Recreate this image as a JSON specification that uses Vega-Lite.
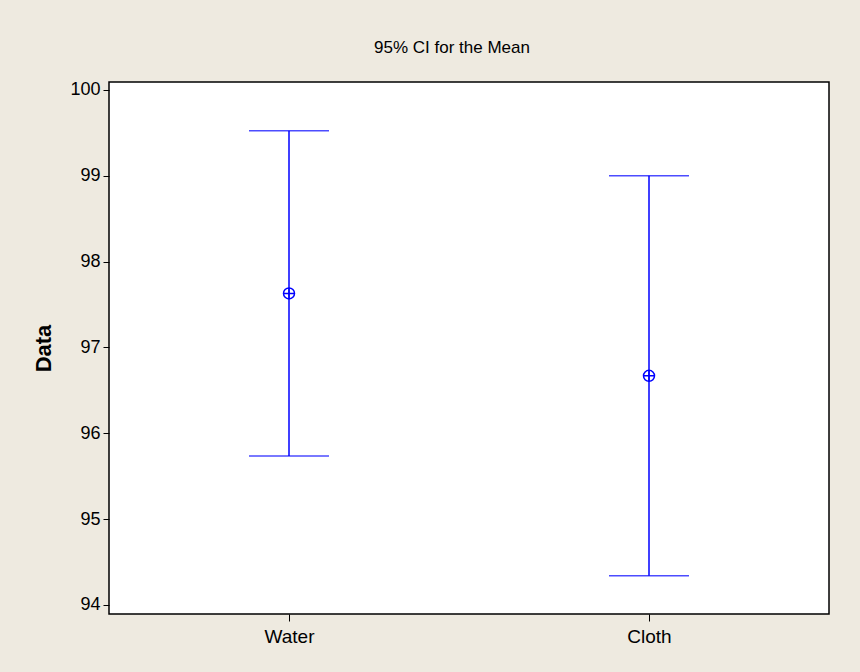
{
  "$schema": "https://vega.github.io/schema/vega-lite/v6.json",
  "autosize": {"type": "none"},
  "width": 720,
  "height": 532,
  "padding": {"left": 109, "top": 82, "right": 31, "bottom": 58},
  "background": "#EEEAE0",
  "title": {
    "text": "95% CI for the Mean",
    "font": "Liberation Sans",
    "fontSize": 17,
    "fontWeight": "normal",
    "color": "#000000",
    "anchor": "middle",
    "offset": 24,
    "dx": -17
  },
  "config": {
    "view": {"stroke": "#000000", "strokeWidth": 1.5, "fill": "#FFFFFF"},
    "axis": {
      "domain": false,
      "grid": false,
      "tickColor": "#000000",
      "labelColor": "#000000",
      "labelFont": "Liberation Sans",
      "labelFontSize": 18,
      "titleColor": "#000000"
    }
  },
  "data": {
    "values": [
      {"group": "Water", "lower": 95.736, "mean": 97.63, "upper": 99.526},
      {"group": "Cloth", "lower": 94.34, "mean": 96.67, "upper": 99.0}
    ]
  },
  "encoding": {
    "x": {
      "field": "group",
      "type": "nominal",
      "sort": ["Water", "Cloth"],
      "scale": {"type": "point", "padding": 0.5},
      "axis": {"title": null, "labelAngle": 0, "tickSize": 7, "labelPadding": 6, "labelFontSize": 19}
    }
  },
  "layer": [
    {
      "mark": {"type": "rule", "color": "#0000FF", "strokeWidth": 1.5},
      "encoding": {
        "y": {
          "field": "lower",
          "type": "quantitative",
          "scale": {"domain": [93.895, 100.093], "nice": false, "zero": false},
          "axis": {
            "title": "Data",
            "titleFont": "Liberation Sans",
            "titleFontSize": 22,
            "titleFontWeight": "bold",
            "titlePadding": 14,
            "values": [94, 95, 96, 97, 98, 99, 100],
            "format": "d",
            "tickSize": 6,
            "labelPadding": 3
          }
        },
        "y2": {"field": "upper"}
      }
    },
    {
      "mark": {"type": "tick", "color": "#0000FF", "size": 80, "thickness": 1.5},
      "encoding": {"y": {"field": "lower", "type": "quantitative"}}
    },
    {
      "mark": {"type": "tick", "color": "#0000FF", "size": 80, "thickness": 1.5},
      "encoding": {"y": {"field": "upper", "type": "quantitative"}}
    },
    {
      "mark": {"type": "point", "shape": "circle", "filled": false, "color": "#0000FF", "size": 121, "strokeWidth": 1.5, "opacity": 1},
      "encoding": {"y": {"field": "mean", "type": "quantitative"}}
    },
    {
      "mark": {"type": "point", "shape": "M-1,0L1,0M0,-1L0,1", "filled": false, "color": "#0000FF", "size": 121, "strokeWidth": 1.5, "opacity": 1},
      "encoding": {"y": {"field": "mean", "type": "quantitative"}}
    }
  ]
}
